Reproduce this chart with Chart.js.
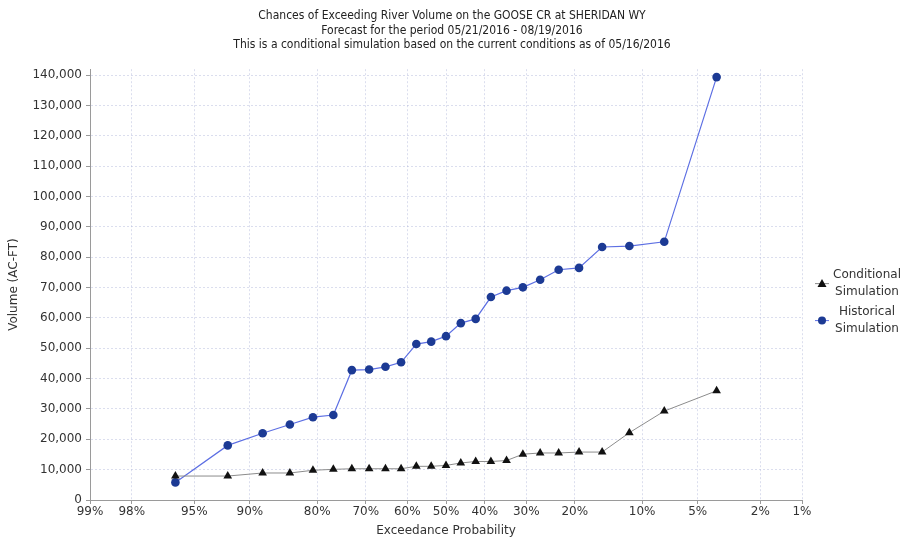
<!DOCTYPE html>
<html>
<head>
<meta charset="utf-8">
<script src="https://cdn.jsdelivr.net/npm/chart.js@4/dist/chart.umd.min.js"></script>
<style>
  html, body { margin: 0; padding: 0; background: #fff; }
  #wrap { width: 904px; height: 542px; position: relative; }
</style>
</head>
<body>
<div id="wrap"><canvas id="chart"></canvas></div>
<script>
// Title lines
const titleLines = [
  'Chances of Exceeding River Volume on the GOOSE CR at SHERIDAN WY',
  'Forecast for the period 05/21/2016 - 08/19/2016',
  'This is a conditional simulation based on the current conditions as of 05/16/2016'
];

// Exceedance probability (%) of each ranked simulation year
const exceedancePct = [96.15, 92.31, 88.46, 84.62, 80.77, 76.92, 73.08, 69.23, 65.38, 61.54,
  57.69, 53.85, 50.00, 46.15, 42.31, 38.46, 34.62, 30.77, 26.92, 23.08,
  19.23, 15.38, 11.54, 7.69, 3.85];

// Volumes (AC-FT)
const conditionalVolume = [7900, 7900, 8900, 8900, 9800, 10100, 10300, 10300, 10300, 10300,
  11100, 11100, 11400, 12200, 12700, 12700, 13000, 15100, 15500, 15500,
  15800, 15800, 22200, 29300, 36000];
const historicalVolume = [5800, 18000, 22000, 24900, 27300, 28000, 42800, 43000, 43900, 45400,
  51400, 52200, 54000, 58300, 59700, 66900, 69000, 70100, 72600, 75900,
  76500, 83400, 83700, 85100, 139400];

// Probability-axis ticks
const probTicks = [99, 98, 95, 90, 80, 70, 60, 50, 40, 30, 20, 10, 5, 2, 1];
const probTickLabels = ['99%', '98%', '95%', '90%', '80%', '70%', '60%', '50%', '40%', '30%', '20%', '10%', '5%', '2%', '1%'];

// Volume-axis ticks
const volumeTicks = [0, 10000, 20000, 30000, 40000, 50000, 60000, 70000, 80000, 90000,
  100000, 110000, 120000, 130000, 140000];

const seriesNames = [['Conditional', 'Simulation'], ['Historical', 'Simulation']];

// Inverse standard normal CDF (Acklam's rational approximation)
function qnorm(p) {
  const a = [-3.969683028665376e+01, 2.209460984245205e+02, -2.759285104469687e+02, 1.383577518672690e+02, -3.066479806614716e+01, 2.506628277459239e+00];
  const b = [-5.447609879822406e+01, 1.615858368580409e+02, -1.556989798598866e+02, 6.680131188771972e+01, -1.328068155288572e+01];
  const c = [-7.784894002430293e-03, -3.223964580411365e-01, -2.400758277161838e+00, -2.549732539343734e+00, 4.374664141464968e+00, 2.938163982698783e+00];
  const d = [7.784695709041462e-03, 3.224671290700398e-01, 2.445134137142996e+00, 3.754408661907416e+00];
  const plow = 0.02425, phigh = 1 - plow;
  let q, r;
  if (p < plow) {
    q = Math.sqrt(-2 * Math.log(p));
    return (((((c[0]*q+c[1])*q+c[2])*q+c[3])*q+c[4])*q+c[5]) / ((((d[0]*q+d[1])*q+d[2])*q+d[3])*q+1);
  }
  if (p <= phigh) {
    q = p - 0.5; r = q * q;
    return (((((a[0]*r+a[1])*r+a[2])*r+a[3])*r+a[4])*r+a[5])*q / (((((b[0]*r+b[1])*r+b[2])*r+b[3])*r+b[4])*r+1);
  }
  q = Math.sqrt(-2 * Math.log(1 - p));
  return -(((((c[0]*q+c[1])*q+c[2])*q+c[3])*q+c[4])*q+c[5]) / ((((d[0]*q+d[1])*q+d[2])*q+d[3])*q+1);
}
// exceedance percent -> normal-probability axis coordinate
const toZ = pct => qnorm(1 - pct / 100);

const COND_POINT = '#111111', COND_LINE = '#8c8c8c';
const HIST_POINT = '#1c3a94', HIST_LINE = '#5d6fe3';
const GRID = 'rgba(170,176,214,0.42)';
const TEXT = '#333333';

const legendStyles = [
  { style: 'triangle', fill: COND_POINT, line: COND_LINE },
  { style: 'circle', fill: HIST_POINT, line: HIST_LINE }
];

// Legend drawn at the right of the plot: short line with marker, two centred text lines
const sideLegend = {
  id: 'sideLegend',
  afterDraw(chart) {
    const { ctx, chartArea } = chart;
    const mid = (chartArea.top + chartArea.bottom) / 2;
    const mx = chartArea.right + 20;
    const tx = chartArea.right + 65;
    ctx.save();
    ctx.font = '12px "DejaVu Sans"';
    ctx.textAlign = 'center';
    ctx.textBaseline = 'middle';
    seriesNames.forEach((lines, i) => {
      const y = mid - 1 + i * 37;
      const st = legendStyles[i];
      ctx.strokeStyle = st.line;
      ctx.lineWidth = 1;
      ctx.beginPath(); ctx.moveTo(mx - 7, y); ctx.lineTo(mx + 7, y); ctx.stroke();
      ctx.fillStyle = st.fill;
      ctx.beginPath();
      if (st.style === 'circle') {
        ctx.arc(mx, y, 4, 0, Math.PI * 2);
      } else {
        ctx.moveTo(mx, y - 4.5); ctx.lineTo(mx + 4.5, y + 3.5); ctx.lineTo(mx - 4.5, y + 3.5); ctx.closePath();
      }
      ctx.fill();
      ctx.fillStyle = TEXT;
      ctx.fillText(lines[0], tx, y - 8.5);
      ctx.fillText(lines[1], tx, y + 8.5);
    });
    ctx.restore();
  }
};

const condData = exceedancePct.map((p, i) => ({ x: toZ(p), y: conditionalVolume[i] }));
const histData = exceedancePct.map((p, i) => ({ x: toZ(p), y: historicalVolume[i] }));

new Chart(document.getElementById('chart'), {
  type: 'line',
  data: {
    datasets: [
      {
        label: seriesNames[0].join(' '),
        data: condData,
        borderColor: COND_LINE,
        borderWidth: 1,
        pointStyle: 'triangle',
        pointRadius: 5,
        pointBackgroundColor: COND_POINT,
        pointBorderColor: COND_POINT,
        pointBorderWidth: 0,
        tension: 0
      },
      {
        label: seriesNames[1].join(' '),
        data: histData,
        borderColor: HIST_LINE,
        borderWidth: 1.2,
        pointStyle: 'circle',
        pointRadius: 4.3,
        pointBackgroundColor: HIST_POINT,
        pointBorderColor: HIST_POINT,
        pointBorderWidth: 0,
        tension: 0
      }
    ]
  },
  options: {
    responsive: true,
    maintainAspectRatio: false,
    devicePixelRatio: 1,
    animation: false,
    layout: { padding: 0 },
    plugins: {
      legend: { display: false },
      tooltip: { enabled: false },
      title: {
        display: true,
        text: titleLines,
        color: '#222',
        font: { family: '"Liberation Sans Narrow", "DejaVu Sans Condensed", sans-serif', size: 12, weight: 'normal', lineHeight: 1.2 },
        padding: { top: 9, bottom: 17 }
      }
    },
    scales: {
      x: {
        type: 'linear',
        min: toZ(probTicks[0]),
        max: toZ(probTicks[probTicks.length - 1]),
        afterBuildTicks: s => { s.ticks = probTicks.map(p => ({ value: toZ(p) })); },
        afterFit: s => { s.height = 42; },
        ticks: {
          autoSkip: false, maxRotation: 0, minRotation: 0, padding: 1,
          color: TEXT,
          font: { family: '"DejaVu Sans"', size: 12 },
          callback: (v, i) => probTickLabels[i]
        },
        grid: { color: GRID, tickColor: '#9a9a9a', tickLength: 4, drawTicks: true },
        border: { display: true, color: '#9a9a9a', dash: [2, 2] },
        title: {
          display: true, text: 'Exceedance Probability', color: TEXT,
          font: { family: '"DejaVu Sans"', size: 12, lineHeight: 1.2 },
          padding: { top: 4, bottom: 4 }
        }
      },
      y: {
        type: 'linear',
        min: 0,
        max: 142000,
        afterBuildTicks: s => { s.ticks = volumeTicks.map(v => ({ value: v })); },
        afterFit: s => { s.width = 90; },
        ticks: {
          padding: 4, color: TEXT,
          font: { family: '"DejaVu Sans"', size: 12 },
          callback: v => v.toLocaleString('en-US')
        },
        grid: { color: GRID, tickColor: '#9a9a9a', tickLength: 4, drawTicks: true },
        border: { display: true, color: '#9a9a9a', dash: [2, 2] },
        title: {
          display: true, text: 'Volume (AC-FT)', color: TEXT,
          font: { family: '"DejaVu Sans"', size: 12, lineHeight: 1.2 },
          padding: { top: 7, bottom: 4 }
        }
      },
      // empty right-hand band that holds the legend
      legendBand: {
        type: 'linear',
        position: 'right',
        display: true,
        afterFit: s => { s.width = 102; },
        ticks: { display: false },
        grid: { display: false, drawTicks: false },
        border: { display: false },
        title: { display: false }
      }
    }
  },
  plugins: [sideLegend]
});
</script>
</body>
</html>
